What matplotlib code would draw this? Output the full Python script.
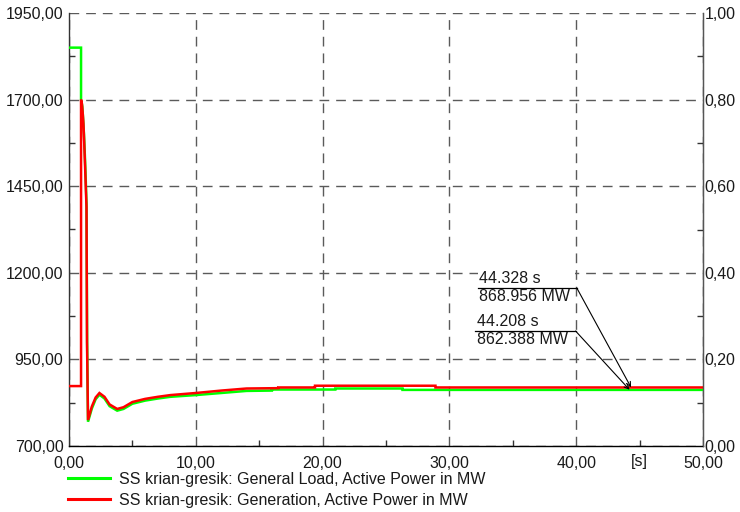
import matplotlib
matplotlib.use("Agg")
import matplotlib.pyplot as plt
from matplotlib.lines import Line2D
from matplotlib.patches import Rectangle
from matplotlib.ticker import FixedLocator, FuncFormatter
import matplotlib.transforms as mtransforms

plt.rcParams['font.family'] = ['Liberation Sans', 'DejaVu Sans']

# ---- data ----
gen_time = [0, 0.95, 0.95, 1.02, 1.08, 1.14, 1.2, 1.27, 1.33, 1.38, 1.42, 1.5, 1.8, 2.1, 2.4,
            2.8, 3.2, 3.8, 4.3, 5.0, 6.0, 7.0, 8.0, 10.0, 12.0, 14.0, 16.5, 16.5, 19.4, 19.4,
            28.9, 28.9, 50]
gen_mw = [873, 873, 1700, 1688, 1662, 1630, 1575, 1505, 1440, 1390, 1000, 775, 814, 840, 853,
          842, 820, 807, 812, 827, 836, 842, 847, 853, 860, 866, 867, 869, 869, 874, 874,
          869, 869]

load_time = [0, 0.95, 0.95, 1.05, 1.12, 1.18, 1.25, 1.32, 1.38, 1.43, 1.5, 1.8, 2.1, 2.4, 2.8,
             3.2, 3.8, 4.3, 5.0, 6.0, 7.0, 8.0, 10.0, 12.0, 14.0, 16.0, 16.0, 21.0, 21.0,
             26.3, 26.3, 50]
load_mw = [1850, 1850, 1700, 1680, 1640, 1600, 1540, 1470, 1400, 1000, 770, 808, 835, 848, 837,
           815, 802, 807, 822, 831, 837, 842, 847, 853, 859, 860, 863, 863, 866, 866, 862, 862]

labels = ["SS krian-gresik: General Load, Active Power in MW",
          "SS krian-gresik: Generation, Active Power in MW"]

left_ticks = [700, 950, 1200, 1450, 1700, 1950]
left_minor = [825, 1075, 1325, 1575, 1825]
right_ticks = [0.0, 0.2, 0.4, 0.6, 0.8, 1.0]
right_minor = [0.1, 0.3, 0.5, 0.7, 0.9]
x_ticks = [0, 10, 20, 30, 40, 50]
x_minor = [5, 15, 25, 35, 45]

marker_gen = (44.328, 868.956)
marker_load = (44.208, 862.388)

# ---- figure ----
fig = plt.figure(figsize=(7.4, 5.12), dpi=100)
ax = fig.add_axes([69/740, 1 - 446/512, (703-69)/740, (446-13)/512])

GREEN = '#00ff00'
RED = '#ff0000'
ax.plot(load_time, load_mw, color=GREEN, lw=1.8, zorder=3, solid_joinstyle='miter')
ax.plot(gen_time, gen_mw, color=RED, lw=1.8, zorder=4, solid_joinstyle='miter')

ax.set_xlim(0, 50)
ax.set_ylim(700, 1950)

fmt = FuncFormatter(lambda v, p: f"{v:.2f}".replace('.', ','))
ax.xaxis.set_major_locator(FixedLocator(x_ticks))
ax.xaxis.set_minor_locator(FixedLocator(x_minor))
ax.yaxis.set_major_locator(FixedLocator(left_ticks))
ax.yaxis.set_minor_locator(FixedLocator(left_minor))
ax.xaxis.set_major_formatter(fmt)
ax.yaxis.set_major_formatter(fmt)

grid_kw = dict(color='#5a5a5a', lw=1.0, dashes=(7, 5))
ax.grid(True, which='major', **grid_kw)
ax.set_axisbelow(True)

TXT = '#1a1a1a'
FS = 11.5
ax.tick_params(which='major', length=0, labelsize=FS, labelcolor=TXT)
ax.tick_params(axis='y', which='major', pad=4)
ax.tick_params(axis='x', which='major', pad=7)
ax.tick_params(which='minor', direction='in', length=4, width=1, color='#333333')

ax.spines['top'].set_visible(False)
ax.spines['left'].set_color('#333333')
ax.spines['bottom'].set_color('#000000')
ax.spines['right'].set_color('#555555')
for s in ['left', 'bottom', 'right']:
    ax.spines[s].set_linewidth(1.0)

# right axis
ax2 = ax.twinx()
ax2.set_ylim(0, 1)
ax2.yaxis.set_major_locator(FixedLocator(right_ticks))
ax2.yaxis.set_minor_locator(FixedLocator(right_minor))
ax2.yaxis.set_major_formatter(fmt)
ax2.tick_params(which='major', length=0, labelsize=FS, labelcolor=TXT, pad=1)
ax2.tick_params(which='minor', direction='in', length=4, width=1, color='#333333')
for s in ['top', 'left', 'bottom']:
    ax2.spines[s].set_visible(False)
ax2.spines['right'].set_color('#555555')

# [s] unit label placed on x tick label row
trans = mtransforms.blended_transform_factory(ax.transData, ax.transAxes)
ax.text(45, -0.036, '[s]', transform=trans, ha='center', va='center', fontsize=FS, color=TXT)

# annotations
def marker_label(x0, x1, ysep, point, top, bottom):
    ax.add_patch(Rectangle((x0, ysep - 45), x1 - 0.12 - x0, 90, facecolor='white',
                           edgecolor='none', zorder=1.5))
    ax.plot([x0, x1], [ysep, ysep], color='#000000', lw=0.9, zorder=5)
    ax.text(x0 + 0.1, ysep + 6, top, ha='left', va='bottom', fontsize=11.5, color=TXT, zorder=6)
    ax.text(x0 + 0.1, ysep - 4, bottom, ha='left', va='top', fontsize=11.5, color=TXT, zorder=6)
    ax.annotate('', xy=point, xytext=(x1, ysep),
                arrowprops=dict(arrowstyle='->', color='#000000', lw=0.8,
                                mutation_scale=8, shrinkA=0, shrinkB=0), zorder=6)

marker_label(32.25, 40.05, 1156, marker_gen, f"{marker_gen[0]:.3f} s", f"{marker_gen[1]:.3f} MW")
marker_label(32.05, 39.95, 1032, marker_load, f"{marker_load[0]:.3f} s", f"{marker_load[1]:.3f} MW")

# legend
handles = [Line2D([], [], color=GREEN, lw=2.2), Line2D([], [], color=RED, lw=2.2)]
fig.legend(handles, labels, loc='upper left', bbox_to_anchor=(68/740, 1 - 472/512),
           frameon=False, fontsize=FS, handlelength=2.6, handletextpad=0.6,
           borderpad=0, borderaxespad=0, labelspacing=0.37, labelcolor=TXT)

fig.savefig('out.png', dpi=100)
